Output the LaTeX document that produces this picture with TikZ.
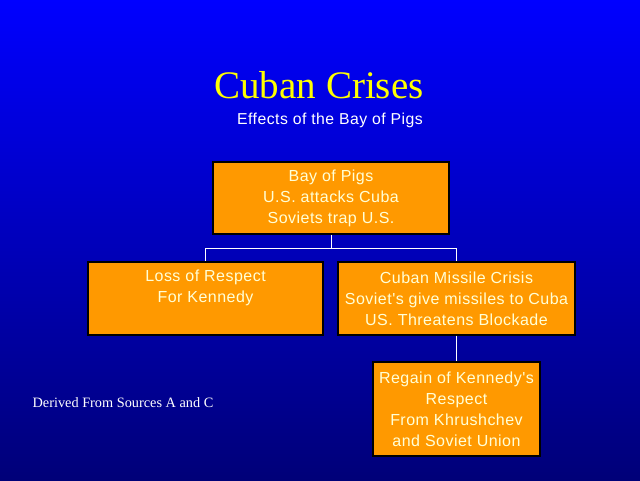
\documentclass[tikz,border=0pt]{standalone}
\usepackage{fontspec}
\setmainfont{Liberation Serif}
\newfontfamily\boxfont[LetterSpace=3]{Liberation Sans}
\definecolor{bgtop}{RGB}{0,0,255}
\definecolor{bgmid}{RGB}{0,0,205}
\definecolor{bgbot}{RGB}{0,0,120}
\definecolor{boxorange}{RGB}{255,153,0}
\definecolor{boxtext}{RGB}{255,255,215}
\definecolor{titleyellow}{RGB}{255,255,0}
\begin{document}
\begin{tikzpicture}[x=1pt,y=-1pt,
  box/.style={rectangle, draw=black, line width=1.2pt, fill=boxorange, inner sep=0pt,
    text=boxtext, align=center, font={\boxfont\fontsize{16}{21}\selectfont}},
  link/.style={draw=white, line width=0.9pt}]
\useasboundingbox (0,0) rectangle (640,480);
\shade[top color=bgtop, middle color=bgmid, bottom color=bgbot] (0,0) rectangle (640,480);
\node[text=titleyellow, font={\fontsize{39}{44}\selectfont}] (title) at (319,85) {Cuban Crises};
\node[text=white, font={\boxfont\fontsize{15.8}{18}\selectfont}] (subtitle) at (330,120) {Effects of the Bay of Pigs};
\node[box, minimum width=236pt, minimum height=72pt] (top) at (331,198) {Bay of Pigs\\U.S. attacks Cuba\\Soviets trap U.S.};
\node[box, minimum width=235pt, minimum height=73pt] (left) at (205.5,298.5) {Loss of Respect\\For Kennedy\\\vphantom{Ay}};
\node[box, minimum width=237pt, minimum height=73pt] (right) at (456.5,298.5) {Cuban Missile Crisis\\Soviet's give missiles to Cuba\\US. Threatens Blockade};
\node[box, minimum width=167pt, minimum height=94pt] (bottom) at (456.5,409) {Regain of Kennedy's\\Respect\\From Khrushchev\\and Soviet Union};
\node[text=white, font={\fontsize{14.3}{16}\selectfont}] (note) at (123,403) {Derived From Sources A and C};
\draw[link] (top.south) -- ++(0,14) coordinate (split) -| (left.north);
\draw[link] (split) -| (right.north);
\draw[link] (right.south) -- (bottom.north);
\end{tikzpicture}
\end{document}
